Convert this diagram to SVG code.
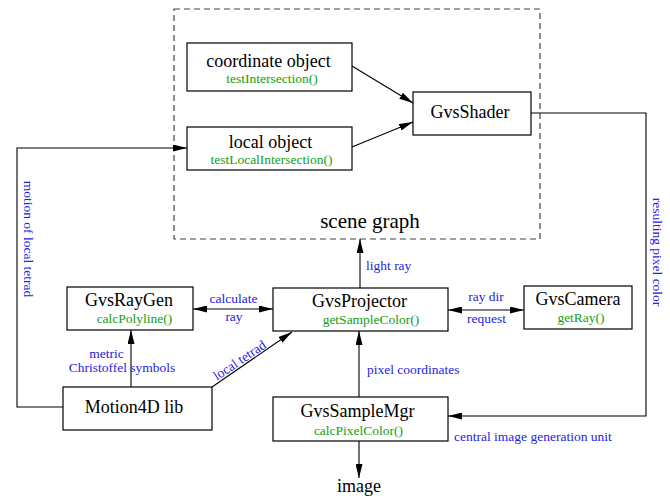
<svg xmlns="http://www.w3.org/2000/svg" width="670" height="496" viewBox="0 0 670 496">
  <style>
    .box { fill: #fff; stroke: #000; stroke-width: 1.2; }
    .t { font-family: "Liberation Serif", "Times New Roman", serif; font-size: 18px; fill: #000; text-anchor: middle; }
    .m { font-family: "Liberation Serif", "Times New Roman", serif; font-size: 13.5px; fill: #11a011; text-anchor: middle; }
    .l { font-family: "Liberation Serif", "Times New Roman", serif; font-size: 13.5px; fill: #2323e6; }
    .c { fill: none; stroke: #000; stroke-width: 1.1; }
  </style>
  <defs>
    <marker id="ah" viewBox="0 0 14 7" refX="14" refY="3.5" markerWidth="14" markerHeight="7" markerUnits="userSpaceOnUse" orient="auto-start-reverse">
      <path d="M0,0 L14,3.5 L0,7 Z" fill="#000"/>
    </marker>
  </defs>

  <rect width="670" height="496" fill="#fff"/>

  <!-- scene graph container -->
  <g id="scene-graph">
    <rect x="174" y="9" width="366" height="230" fill="none" stroke="#444" stroke-width="1.2" stroke-dasharray="6,4"/>
    <text class="t" x="370" y="228" style="font-size:21px">scene graph</text>
  </g>

  <g id="connectors">
    <line class="c" x1="352" y1="66" x2="413" y2="103" marker-end="url(#ah)"/>
    <line class="c" x1="352" y1="147" x2="413" y2="122" marker-end="url(#ah)"/>
    <polyline class="c" points="63,407 17,407 17,148 187,148" marker-end="url(#ah)"/>
    <polyline class="c" points="531,113 646,113 646,416 448,416" marker-end="url(#ah)"/>
    <line class="c" x1="131" y1="387" x2="131" y2="330" marker-end="url(#ah)"/>
    <line class="c" x1="193" y1="309" x2="273" y2="309" marker-start="url(#ah)" marker-end="url(#ah)"/>
    <line class="c" x1="212" y1="387" x2="292" y2="332" marker-end="url(#ah)"/>
    <line class="c" x1="360" y1="288" x2="360" y2="239" marker-end="url(#ah)"/>
    <line class="c" x1="448" y1="310" x2="524" y2="310" marker-start="url(#ah)" marker-end="url(#ah)"/>
    <line class="c" x1="359" y1="397" x2="359" y2="331" marker-end="url(#ah)"/>
    <line class="c" x1="359" y1="441" x2="359" y2="478" marker-end="url(#ah)"/>

    <!-- connector labels -->
    <text class="l" x="366" y="270">light ray</text>
    <text class="l" x="233.5" y="303" text-anchor="middle">calculate</text>
    <text class="l" x="234" y="321" text-anchor="middle">ray</text>
    <text class="l" x="486" y="301" text-anchor="middle">ray dir</text>
    <text class="l" x="486.5" y="323" text-anchor="middle">request</text>
    <text class="l" x="367" y="374">pixel coordinates</text>
    <text class="l" x="454" y="441">central image generation unit</text>
    <text class="l" x="106.5" y="358" text-anchor="middle">metric</text>
    <text class="l" x="122" y="372" text-anchor="middle">Christoffel symbols</text>
    <text class="l" x="0" y="0" text-anchor="middle" transform="translate(242,364) rotate(-34)">local tetrad</text>
    <text class="l" x="0" y="0" text-anchor="middle" transform="translate(24,239) rotate(90)">motion of local tetrad</text>
    <text class="l" x="0" y="0" text-anchor="middle" transform="translate(653,252) rotate(90)">resulting pixel color</text>
  </g>

  <g id="coordinate-object">
    <rect class="box" x="187" y="43" width="165" height="48"/>
    <text class="t" x="268.5" y="67">coordinate object</text>
    <text class="m" x="272" y="83">testIntersection()</text>
  </g>

  <g id="local-object">
    <rect class="box" x="187" y="127" width="165" height="43"/>
    <text class="t" x="270.5" y="148">local object</text>
    <text class="m" x="271.5" y="164">testLocalIntersection()</text>
  </g>

  <g id="gvs-shader">
    <rect class="box" x="413" y="92" width="118" height="43"/>
    <text class="t" x="470" y="118">GvsShader</text>
  </g>

  <g id="gvs-raygen">
    <rect class="box" x="67" y="287" width="126" height="43"/>
    <text class="t" x="129" y="306">GvsRayGen</text>
    <text class="m" x="134.5" y="323">calcPolyline()</text>
  </g>

  <g id="gvs-projector">
    <rect class="box" x="273" y="288" width="175" height="43"/>
    <text class="t" x="359.5" y="307">GvsProjector</text>
    <text class="m" x="371" y="324">getSampleColor()</text>
  </g>

  <g id="gvs-camera">
    <rect class="box" x="524" y="286" width="108" height="43"/>
    <text class="t" x="578" y="305">GvsCamera</text>
    <text class="m" x="581" y="322">getRay()</text>
  </g>

  <g id="motion4d-lib">
    <rect class="box" x="63" y="387" width="149" height="43"/>
    <text class="t" x="134" y="413">Motion4D lib</text>
  </g>

  <g id="gvs-samplemgr">
    <rect class="box" x="273" y="397" width="175" height="44"/>
    <text class="t" x="357.5" y="417">GvsSampleMgr</text>
    <text class="m" x="358.5" y="435">calcPixelColor()</text>
  </g>

  <g id="image-output">
    <text class="t" x="359" y="492">image</text>
  </g>
</svg>
